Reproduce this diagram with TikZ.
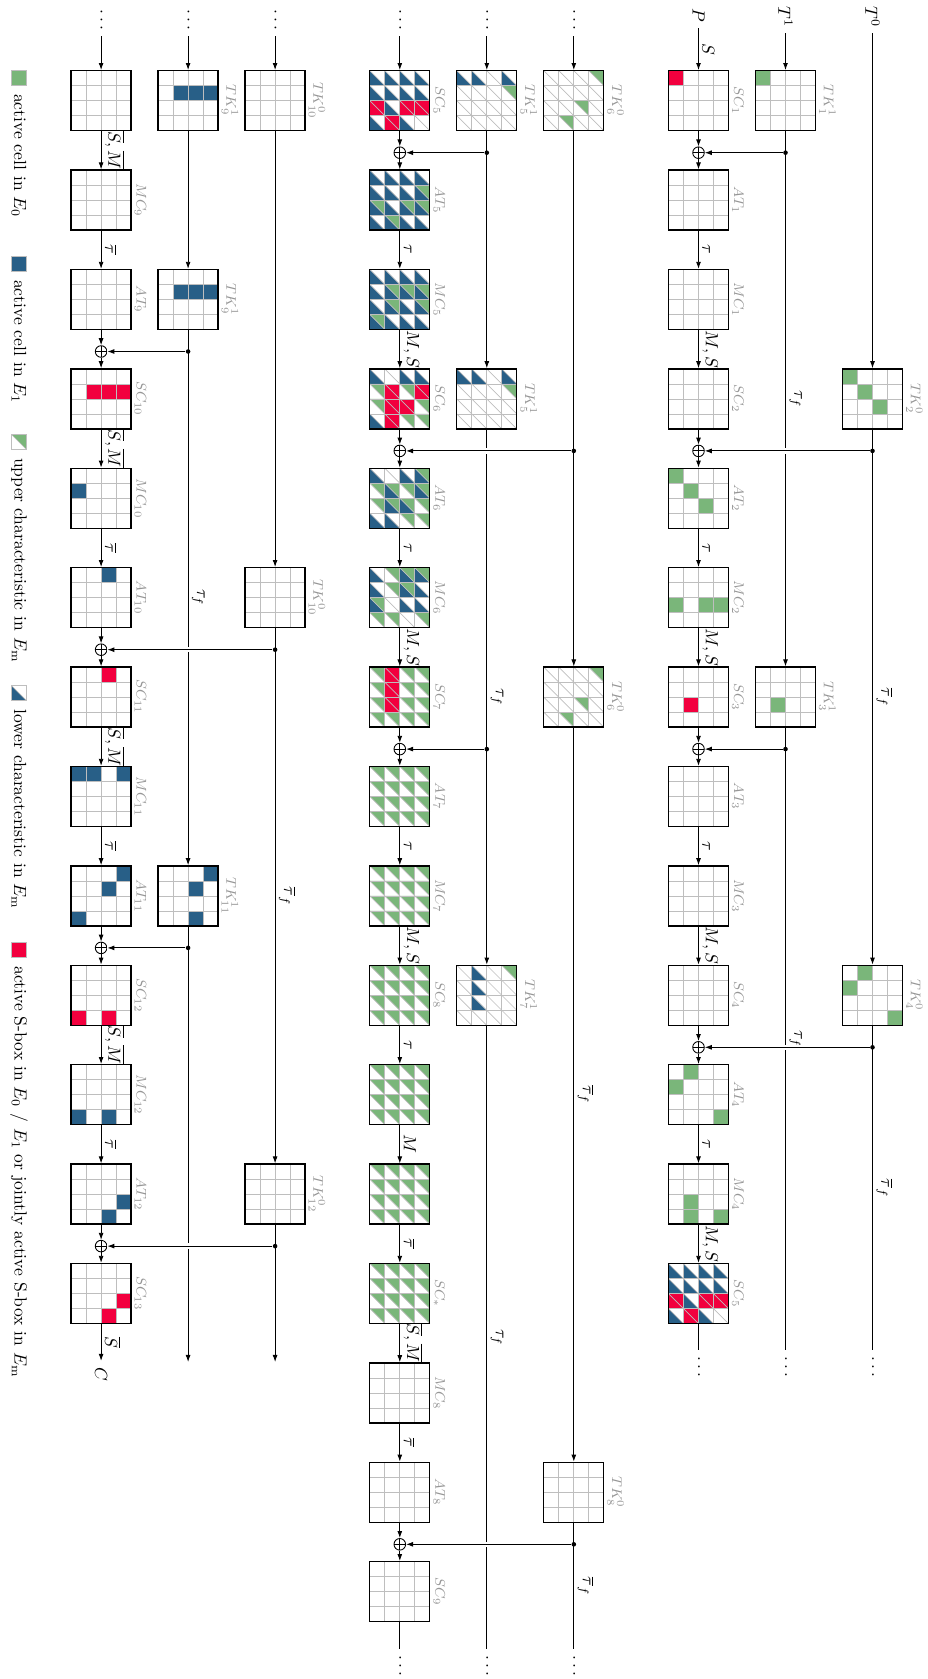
\documentclass[tikz,border=0pt]{standalone}
\usetikzlibrary{arrows.meta}
\definecolor{cg}{RGB}{122,182,122}
\definecolor{cb}{RGB}{40,95,135}
\definecolor{cr}{RGB}{242,0,62}
\definecolor{cgrid}{RGB}{190,190,190}
\definecolor{clab}{RGB}{150,150,150}
\newcommand\RT[1]{70.7+99.4*#1}
\newcommand\RC[1]{100.7+99.4*#1}
\newcommand\XY[1]{152.7+99.4*#1}
\newcommand\FC[2]{\foreach \ii/\jj in {#2}{\fill[#1] ({\ii*15},{\jj*15}) rectangle ++(15,15);}}
\newcommand\UC[2]{\foreach \ii/\jj in {#2}{\fill[#1] ({\ii*15},{\jj*15}) -- ++(15,0) -- ++(0,15) -- cycle;}}
\newcommand\LC[2]{\foreach \ii/\jj in {#2}{\fill[#1] ({\ii*15},{\jj*15}) -- ++(0,15) -- ++(15,0) -- cycle;}}
\newcommand\GR{\foreach \qq in {1,2,3}{\draw[gridl] ({\qq*15},0) -- ({\qq*15},60) (0,{\qq*15}) -- (60,{\qq*15});}}
\newcommand\DG{\foreach \ii in {0,...,3}{\foreach \jj in {0,...,3}{\draw[gridl] ({\ii*15},{\jj*15}) -- ++(15,15);}}}
\newcommand\DBox[5]{\begin{scope}[shift={({#2-30},{\RT{#3}})}]#4\GR\end{scope}\node[stbox] (#1) at (#2,{\RC{#3}}) {};\node[lab] (#1l) at (#1.east) {#5};}
\newcommand\PSCfive{\LC{cb}{0/0,1/0,2/0,3/0,0/1,1/1,2/1,3/1,1/2,0/3,2/3}\FC{cr}{0/2,2/2,3/2,1/3}\DG}
\newcommand\PTKa{\LC{cb}{0/0,1/0,3/0}\UC{cg}{3/1}\DG}
\newcommand\PTKb{\UC{cg}{3/0,2/2,1/3}\DG}
\newcommand\PTKc{\LC{cb}{1/0,1/1,1/2}\UC{cg}{3/0}\DG}
\newcommand\PAll{\UC{cg}{0/0,1/0,2/0,3/0,0/1,1/1,2/1,3/1,0/2,1/2,2/2,3/2,0/3,1/3,2/3,3/3}\DG}
\newcommand\PATfive{\LC{cb}{0/0,1/0,2/0,3/0,0/1,1/1,2/1,3/1,0/2,1/2,2/2,3/2,0/3,1/3,2/3,3/3}\UC{cg}{3/1,0/2,2/2,3/2,1/3}\DG}
\newcommand\PMCfive{\LC{cb}{0/0,1/0,2/0,3/0,0/1,1/1,2/1,3/1,0/2,1/2,2/2,3/2,0/3,1/3,2/3,3/3}\UC{cg}{1/1,2/1,3/1,1/2,3/2,0/3}\DG}
\newcommand\PSCsix{\LC{cb}{0/0,2/0,3/0,0/3}\UC{cg}{0/1,2/1,0/2,3/2,2/3,3/3}\FC{cr}{1/1,3/1,1/2,2/2,1/3}\DG}
\newcommand\PATsix{\LC{cb}{0/0,2/0,3/0,1/1,3/1,1/2,2/2,0/3,1/3}\UC{cg}{3/0,0/1,1/1,2/1,3/1,0/2,1/2,2/2,3/2,2/3,3/3}\DG}
\newcommand\PMCsix{\LC{cb}{0/0,2/0,3/0,0/1,2/1,3/1,0/2,2/2,3/2}\UC{cg}{1/0,2/0,3/0,1/1,2/1,0/2,0/3,1/3,3/3}\DG}
\newcommand\PSCseven{\UC{cg}{0/0,2/0,3/0,0/1,2/1,3/1,0/2,2/2,3/2,0/3,1/3,2/3,3/3}\FC{cr}{1/0,1/1,1/2}\DG}
\tikzset{
  gridl/.style={draw=cgrid, line width=0.4pt},
  stbox/.style={draw=black, line width=0.75pt, minimum size=1.2cm, inner sep=0pt},
  lab/.style={rotate=-90, anchor=south, font=\footnotesize, text=clab, inner sep=1.5pt},
  elab/.style={rotate=-90, anchor=south, inner sep=2pt},
  rtext/.style={rotate=-90},
  arr/.style={line width=0.5pt, -{Latex[length=4pt,width=2.8pt]}},
  ln/.style={line width=0.5pt},
  hz/.style={arr, preaction={draw=white, line width=3pt, -}},
  xorn/.style={circle, draw, line width=0.5pt, minimum size=6.6pt, inner sep=0pt,
    path picture={\draw[line width=0.5pt] (path picture bounding box.north) -- (path picture bounding box.south) (path picture bounding box.west) -- (path picture bounding box.east);}},
  dotn/.style={circle, fill, minimum size=2.6pt, inner sep=0pt},
  leg/.style={draw=cgrid, line width=0.4pt, minimum size=0.3cm, inner sep=0pt},
}
\begin{document}
\begin{tikzpicture}[x=0.02cm,y=-0.02cm]
\useasboundingbox (0,0) rectangle (927,1679);
% ================= Block 0 =================
\DBox{a0}{698.5}{0}{\FC{cr}{0/0}}{$SC_1$}
\DBox{a1}{698.5}{1}{}{$AT_1$}
\DBox{a2}{698.5}{2}{}{$MC_1$}
\DBox{a3}{698.5}{3}{}{$SC_2$}
\DBox{a4}{698.5}{4}{\FC{cg}{0/0,1/1,2/2}}{$AT_2$}
\DBox{a5}{698.5}{5}{\FC{cg}{0/2,2/2,3/2}}{$MC_2$}
\DBox{a6}{698.5}{6}{\FC{cr}{1/2}}{$SC_3$}
\DBox{a7}{698.5}{7}{}{$AT_3$}
\DBox{a8}{698.5}{8}{}{$MC_3$}
\DBox{a9}{698.5}{9}{}{$SC_4$}
\DBox{a10}{698.5}{10}{\FC{cg}{1/0,0/1,3/3}}{$AT_4$}
\DBox{a11}{698.5}{11}{\FC{cg}{1/2,1/3,3/3}}{$MC_4$}
\DBox{a12}{698.5}{12}{\PSCfive}{$SC_5$}
\DBox{ak1r0}{785.5}{0}{\FC{cg}{0/0}}{$TK_1^1$}
\DBox{ak1r6}{785.5}{6}{\FC{cg}{1/2}}{$TK_3^1$}
\DBox{ak0r3}{872.5}{3}{\FC{cg}{0/0,1/1,2/2}}{$TK_2^0$}
\DBox{ak0r9}{872.5}{9}{\FC{cg}{1/0,0/1,3/3}}{$TK_4^0$}
\foreach \q in {0,3,6,9}{\node[xorn] (ax\q) at (698.5,{\XY{\q}}) {};}
\node[rtext] (P) at (698.5,15) {$P$};
\node[rtext] (T1) at (785.5,17) {$T^1$};
\node[rtext] (T0) at (872.5,17) {$T^0$};
\draw[arr] (P) -- node[elab] (la0) {$S$} (a0);
\draw[arr] (T1) -- (ak1r0);
\draw[arr] (ak1r0) -- node[elab] (la1) {$\tau_f$} (ak1r6);
\coordinate (ae1) at (785.5,1350);
\draw[ln] (ak1r6) -- node[elab] (la2) {$\tau_f$} (ae1);
\draw[arr] (T0) -- (ak0r3);
\draw[arr] (ak0r3) -- node[elab] (la3) {$\overline{\tau}_f$} (ak0r9);
\coordinate (ae0) at (872.5,1350);
\draw[ln] (ak0r9) -- node[elab] (la4) {$\overline{\tau}_f$} (ae0);
\coordinate (aes) at (698.5,1350);
\draw[ln] (a12) -- (aes);
\node[rtext] (adt0) at (698.5,1367) {$\cdots$};
\node[rtext] (adt1) at (785.5,1367) {$\cdots$};
\node[rtext] (adt2) at (872.5,1367) {$\cdots$};
\draw[arr] (a0) -- (ax0); \draw[arr] (ax0) -- (a1);
\draw[arr] (a1) -- node[elab] (ea1) {$\tau$} (a2);
\draw[arr] (a2) -- node[elab] (ea2) {$M,S$} (a3);
\draw[arr] (a3) -- (ax3); \draw[arr] (ax3) -- (a4);
\draw[arr] (a4) -- node[elab] (ea4) {$\tau$} (a5);
\draw[arr] (a5) -- node[elab] (ea5) {$M,S$} (a6);
\draw[arr] (a6) -- (ax6); \draw[arr] (ax6) -- (a7);
\draw[arr] (a7) -- node[elab] (ea7) {$\tau$} (a8);
\draw[arr] (a8) -- node[elab] (ea8) {$M,S$} (a9);
\draw[arr] (a9) -- (ax9); \draw[arr] (ax9) -- (a10);
\draw[arr] (a10) -- node[elab] (ea10) {$\tau$} (a11);
\draw[arr] (a11) -- node[elab] (ea11) {$M,S$} (a12);
\node[dotn] (ad0) at (785.5,{\XY{0}}) {};
\node[dotn] (ad3) at (872.5,{\XY{3}}) {};
\node[dotn] (ad6) at (785.5,{\XY{6}}) {};
\node[dotn] (ad9) at (872.5,{\XY{9}}) {};
\draw[hz] (ad0) -- (ax0);
\draw[hz] (ad3) -- (ax3);
\draw[hz] (ad6) -- (ax6);
\draw[hz] (ad9) -- (ax9);
% ================= Block 1 =================
\DBox{b0}{399.8}{0}{\PSCfive}{$SC_5$}
\DBox{b1}{399.8}{1}{\PATfive}{$AT_5$}
\DBox{b2}{399.8}{2}{\PMCfive}{$MC_5$}
\DBox{b3}{399.8}{3}{\PSCsix}{$SC_6$}
\DBox{b4}{399.8}{4}{\PATsix}{$AT_6$}
\DBox{b5}{399.8}{5}{\PMCsix}{$MC_6$}
\DBox{b6}{399.8}{6}{\PSCseven}{$SC_7$}
\DBox{b7}{399.8}{7}{\PAll}{$AT_7$}
\DBox{b8}{399.8}{8}{\PAll}{$MC_7$}
\DBox{b9}{399.8}{9}{\PAll}{$SC_8$}
\DBox{b10}{399.8}{10}{\PAll}{}
\DBox{b11}{399.8}{11}{\PAll}{}
\DBox{b12}{399.8}{12}{\PAll}{$SC_*$}
\DBox{b13}{399.8}{13}{}{$MC_8$}
\DBox{b14}{399.8}{14}{}{$AT_8$}
\DBox{b15}{399.8}{15}{}{$SC_9$}
\DBox{bk1r0}{486.8}{0}{\PTKa}{$TK_5^1$}
\DBox{bk1r3}{486.8}{3}{\PTKa}{$TK_5^1$}
\DBox{bk1r9}{486.8}{9}{\PTKc}{$TK_7^1$}
\DBox{bk0r0}{573.8}{0}{\PTKb}{$TK_6^0$}
\DBox{bk0r6}{573.8}{6}{\PTKb}{$TK_6^0$}
\DBox{bk0r14}{573.8}{14}{}{$TK_8^0$}
\foreach \q in {0,3,6,14}{\node[xorn] (bx\q) at (399.8,{\XY{\q}}) {};}
\node[rtext] (bt0) at (399.8,20) {$\cdots$};
\node[rtext] (bt1) at (486.8,20) {$\cdots$};
\node[rtext] (bt2) at (573.8,20) {$\cdots$};
\draw[arr] (bt0) -- (b0);
\draw[arr] (bt1) -- (bk1r0);
\draw[arr] (bt2) -- (bk0r0);
\draw[arr] (bk1r0) -- (bk1r3);
\draw[arr] (bk1r3) -- node[elab] (lb1) {$\tau_f$} (bk1r9);
\coordinate (be1) at (486.8,1649);
\draw[ln] (bk1r9) -- node[elab] (lb2) {$\tau_f$} (be1);
\draw[arr] (bk0r0) -- (bk0r6);
\draw[arr] (bk0r6) -- node[elab] (lb3) {$\overline{\tau}_f$} (bk0r14);
\coordinate (be0) at (573.8,1649);
\draw[ln] (bk0r14) -- node[elab] (lb4) {$\overline{\tau}_f$} (be0);
\coordinate (bes) at (399.8,1649);
\draw[ln] (b15) -- (bes);
\node[rtext] (bdt0) at (399.8,1666) {$\cdots$};
\node[rtext] (bdt1) at (486.8,1666) {$\cdots$};
\node[rtext] (bdt2) at (573.8,1666) {$\cdots$};
\draw[arr] (b0) -- (bx0); \draw[arr] (bx0) -- (b1);
\draw[arr] (b1) -- node[elab] (eb1) {$\tau$} (b2);
\draw[arr] (b2) -- node[elab] (eb2) {$M,S$} (b3);
\draw[arr] (b3) -- (bx3); \draw[arr] (bx3) -- (b4);
\draw[arr] (b4) -- node[elab] (eb4) {$\tau$} (b5);
\draw[arr] (b5) -- node[elab] (eb5) {$M,S$} (b6);
\draw[arr] (b6) -- (bx6); \draw[arr] (bx6) -- (b7);
\draw[arr] (b7) -- node[elab] (eb7) {$\tau$} (b8);
\draw[arr] (b8) -- node[elab] (eb8) {$M,S$} (b9);
\draw[arr] (b9) -- node[elab] (eb9) {$\tau$} (b10);
\draw[arr] (b10) -- node[elab] (eb10) {$M$} (b11);
\draw[arr] (b11) -- node[elab] (eb11) {$\overline{\tau}$} (b12);
\draw[arr] (b12) -- node[elab] (eb12) {$\overline{S},\overline{M}$} (b13);
\draw[arr] (b13) -- node[elab] (eb13) {$\overline{\tau}$} (b14);
\draw[arr] (b14) -- (bx14); \draw[arr] (bx14) -- (b15);
\node[dotn] (bd0) at (486.8,{\XY{0}}) {};
\node[dotn] (bd3) at (573.8,{\XY{3}}) {};
\node[dotn] (bd6) at (486.8,{\XY{6}}) {};
\node[dotn] (bd14) at (573.8,{\XY{14}}) {};
\draw[hz] (bd0) -- (bx0);
\draw[hz] (bd3) -- (bx3);
\draw[hz] (bd6) -- (bx6);
\draw[hz] (bd14) -- (bx14);
% ================= Block 2 =================
\DBox{c0}{101.1}{0}{}{}
\DBox{c1}{101.1}{1}{}{$MC_9$}
\DBox{c2}{101.1}{2}{}{$AT_9$}
\DBox{c3}{101.1}{3}{\FC{cr}{1/1,2/1,3/1}}{$SC_{10}$}
\DBox{c4}{101.1}{4}{\FC{cb}{0/1}}{$MC_{10}$}
\DBox{c5}{101.1}{5}{\FC{cb}{2/0}}{$AT_{10}$}
\DBox{c6}{101.1}{6}{\FC{cr}{2/0}}{$SC_{11}$}
\DBox{c7}{101.1}{7}{\FC{cb}{0/0,1/0,3/0}}{$MC_{11}$}
\DBox{c8}{101.1}{8}{\FC{cb}{3/0,2/1,0/3}}{$AT_{11}$}
\DBox{c9}{101.1}{9}{\FC{cr}{0/3,2/3}}{$SC_{12}$}
\DBox{c10}{101.1}{10}{\FC{cb}{0/3,2/3}}{$MC_{12}$}
\DBox{c11}{101.1}{11}{\FC{cb}{3/2,2/3}}{$AT_{12}$}
\DBox{c12}{101.1}{12}{\FC{cr}{3/2,2/3}}{$SC_{13}$}
\DBox{ck1r0}{188.1}{0}{\FC{cb}{1/1,2/1,3/1}}{$TK_9^1$}
\DBox{ck1r2}{188.1}{2}{\FC{cb}{1/1,2/1,3/1}}{$TK_9^1$}
\DBox{ck1r8}{188.1}{8}{\FC{cb}{3/0,2/1,2/3}}{$TK_{11}^1$}
\DBox{ck0r0}{275.1}{0}{}{$TK_{10}^0$}
\DBox{ck0r5}{275.1}{5}{}{$TK_{10}^0$}
\DBox{ck0r11}{275.1}{11}{}{$TK_{12}^0$}
\foreach \q in {2,5,8,11}{\node[xorn] (cx\q) at (101.1,{\XY{\q}}) {};}
\node[rtext] (ct0) at (101.1,20) {$\cdots$};
\node[rtext] (ct1) at (188.1,20) {$\cdots$};
\node[rtext] (ct2) at (275.1,20) {$\cdots$};
\draw[arr] (ct0) -- (c0);
\draw[arr] (ct1) -- (ck1r0);
\draw[arr] (ct2) -- (ck0r0);
\draw[arr] (ck1r0) -- (ck1r2);
\draw[arr] (ck1r2) -- node[elab] (lc1) {$\tau_f$} (ck1r8);
\coordinate (ce1) at (188.1,1362);
\draw[arr] (ck1r8) -- (ce1);
\draw[arr] (ck0r0) -- (ck0r5);
\draw[arr] (ck0r5) -- node[elab] (lc3) {$\overline{\tau}_f$} (ck0r11);
\coordinate (ce0) at (275.1,1362);
\draw[arr] (ck0r11) -- (ce0);
\node[rtext] (C) at (101.1,1374) {$C$};
\draw[arr] (c0) -- node[elab] (ec0) {$\overline{S},\overline{M}$} (c1);
\draw[arr] (c1) -- node[elab] (ec1) {$\overline{\tau}$} (c2);
\draw[arr] (c2) -- (cx2); \draw[arr] (cx2) -- (c3);
\draw[arr] (c3) -- node[elab] (ec3) {$\overline{S},\overline{M}$} (c4);
\draw[arr] (c4) -- node[elab] (ec4) {$\overline{\tau}$} (c5);
\draw[arr] (c5) -- (cx5); \draw[arr] (cx5) -- (c6);
\draw[arr] (c6) -- node[elab] (ec6) {$\overline{S},\overline{M}$} (c7);
\draw[arr] (c7) -- node[elab] (ec7) {$\overline{\tau}$} (c8);
\draw[arr] (c8) -- (cx8); \draw[arr] (cx8) -- (c9);
\draw[arr] (c9) -- node[elab] (ec9) {$\overline{S},\overline{M}$} (c10);
\draw[arr] (c10) -- node[elab] (ec10) {$\overline{\tau}$} (c11);
\draw[arr] (c11) -- (cx11); \draw[arr] (cx11) -- (c12);
\draw[arr] (c12) -- node[elab] (ec12) {$\overline{S}$} (C);
\node[dotn] (cd2) at (188.1,{\XY{2}}) {};
\node[dotn] (cd5) at (275.1,{\XY{5}}) {};
\node[dotn] (cd8) at (188.1,{\XY{8}}) {};
\node[dotn] (cd11) at (275.1,{\XY{11}}) {};
\draw[hz] (cd2) -- (cx2);
\draw[hz] (cd5) -- (cx5);
\draw[hz] (cd8) -- (cx8);
\draw[hz] (cd11) -- (cx11);
% ================= Legend =================
\node[leg, fill=cg] (lg1) at (19,78) {};
\node[rtext, anchor=west] (lt1) at (19,88) {active cell in $E_0$};
\node[leg, fill=cb] (lg2) at (19,264) {};
\node[rtext, anchor=west] (lt2) at (19,274) {active cell in $E_1$};
\node[leg, path picture={\fill[cg] (path picture bounding box.north west) -- (path picture bounding box.north east) -- (path picture bounding box.south east) -- cycle; \draw[cgrid] (path picture bounding box.north west) -- (path picture bounding box.south east);}] (lg3) at (19,442) {};
\node[rtext, anchor=west] (lt3) at (19,452) {upper characteristic in $E_\mathrm{m}$};
\node[leg, path picture={\fill[cb] (path picture bounding box.north west) -- (path picture bounding box.south west) -- (path picture bounding box.south east) -- cycle; \draw[cgrid] (path picture bounding box.north west) -- (path picture bounding box.south east);}] (lg4) at (19,693) {};
\node[rtext, anchor=west] (lt4) at (19,703) {lower characteristic in $E_\mathrm{m}$};
\node[leg, fill=cr] (lg5) at (19,950) {};
\node[rtext, anchor=west] (lt5) at (19,960) {active S-box in $E_0$ / $E_1$ or jointly active S-box in $E_\mathrm{m}$};
\end{tikzpicture}
\end{document}
